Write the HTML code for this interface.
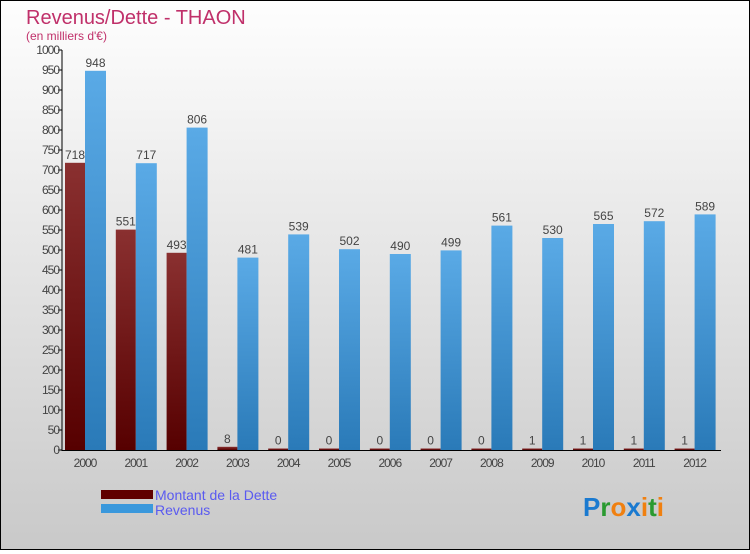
<!DOCTYPE html>
<html><head><meta charset="utf-8"><style>
body{margin:0;width:750px;height:550px;overflow:hidden;font-family:"Liberation Sans",sans-serif}
#c{position:absolute;left:0;top:0;width:748px;height:548px;border:1px solid #000;background:linear-gradient(#fefefe,#c9c9c9)}
</style></head><body>
<div id="c">
<svg id="s" width="748" height="548">
<defs>
<linearGradient id="gd" x1="0" y1="0" x2="0" y2="1"><stop offset="0" stop-color="#8a3030"/><stop offset="1" stop-color="#560000"/></linearGradient>
<linearGradient id="gr" x1="0" y1="0" x2="0" y2="1"><stop offset="0" stop-color="#5aaae6"/><stop offset="1" stop-color="#2a7ab8"/></linearGradient>
</defs>
<text x="25" y="23" font-size="20" fill="#c0306a">Revenus/Dette - THAON</text>
<text x="25" y="39" font-size="12" fill="#c0306a">(en milliers d'€)</text>
<g id="plot"></g>
<rect x="100" y="489" width="52" height="9" fill="#600000"/>
<rect x="100" y="503" width="52" height="9" fill="#3a98dc"/>
<text x="154" y="499" font-size="14" fill="#5a5af0">Montant de la Dette</text>
<text x="154" y="514" font-size="14" fill="#5a5af0">Revenus</text>
<text x="582" y="515" font-size="26" font-weight="bold"><tspan fill="#1a7ad0">P</tspan><tspan fill="#2a9a30">r</tspan><tspan fill="#f08010">o</tspan><tspan fill="#1a7ad0">x</tspan><tspan fill="#f08010">i</tspan><tspan fill="#2a9a30">t</tspan><tspan fill="#f08010">i</tspan></text>
</svg></div>
<script>
const years=["2000","2001","2002","2003","2004","2005","2006","2007","2008","2009","2010","2011","2012"];
const dette=[718,551,493,8,0,0,0,0,0,1,1,1,1];
const revenus=[948,717,806,481,539,502,490,499,561,530,565,572,589];
const ticks=[0,50,100,150,200,250,300,350,400,450,500,550,600,650,700,750,800,850,900,950,1000];
const NS="http://www.w3.org/2000/svg";
const g=document.getElementById('plot');
const y=v=>449-v*0.4;
const xc=i=>84+i*50.8;
function el(t,a,txt){const e=document.createElementNS(NS,t);for(const k in a)e.setAttribute(k,a[k]);if(txt!==undefined)e.textContent=txt;g.appendChild(e);return e;}
ticks.forEach(t=>{
 const tk=el('line',{x1:57,x2:61,y1:y(t),y2:y(t),stroke:'#000'});
 
 
 const lb=el('text',{x:58,y:y(t)+4,'font-size':12,fill:'#444','text-anchor':'end','letter-spacing':'-1'},t);
 
 
});
years.forEach((yr,i)=>{
 const c=xc(i);
 const hd=Math.max(dette[i]*0.4,1.5);
 const b1=el('rect',{x:c-20,y:449-hd,width:20,height:hd,fill:'url(#gd)'});
 
 
 const l1=el('text',{x:c-10,y:449-hd-4,'font-size':12,fill:'#444','text-anchor':'middle'},dette[i]);
 
 
 const b2=el('rect',{x:c,y:y(revenus[i]),width:21,height:revenus[i]*0.4,fill:'url(#gr)'});
 
 
 const l2=el('text',{x:c+10.5,y:y(revenus[i])-4,'font-size':12,fill:'#444','text-anchor':'middle'},revenus[i]);
 
 
 const xl=el('text',{x:c,y:466,'font-size':12,fill:'#444','text-anchor':'middle','letter-spacing':'-1'},yr);
 
 
});
const ya=el('line',{x1:61,x2:61,y1:49,y2:450,stroke:'#000'});


const xa=el('line',{x1:61,x2:720,y1:449.5,y2:449.5,stroke:'#000'});


</script>
</body></html>
